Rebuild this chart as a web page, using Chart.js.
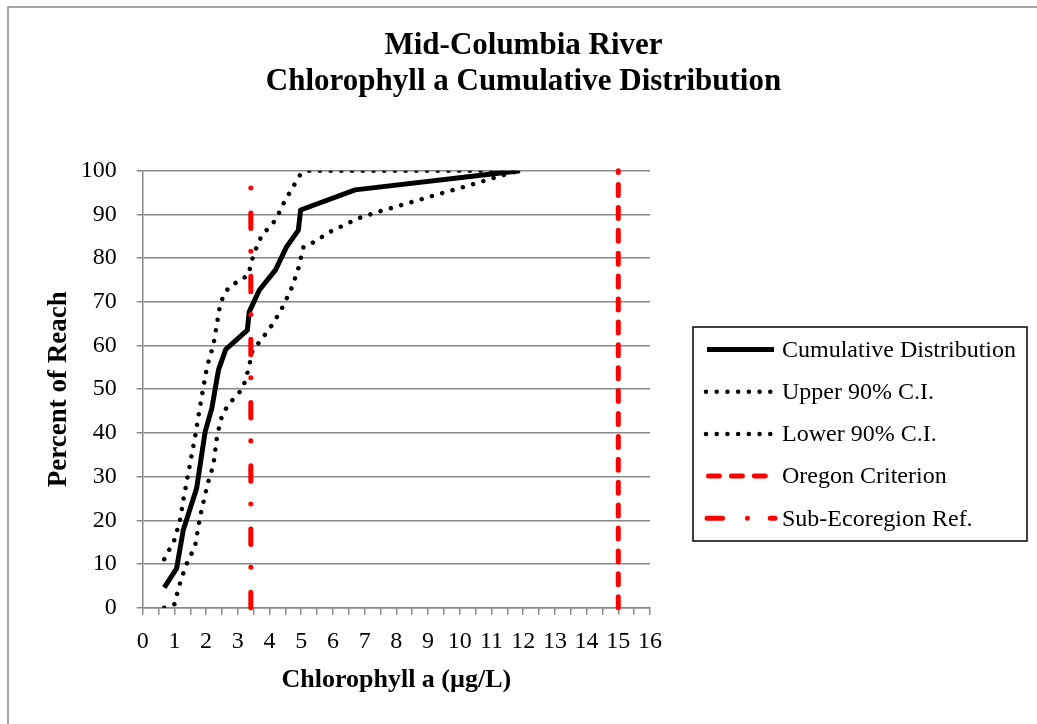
<!DOCTYPE html>
<html>
<head>
<meta charset="utf-8">
<title>Mid-Columbia River Chlorophyll a Cumulative Distribution</title>
<script src="https://cdn.jsdelivr.net/npm/chart.js@4.4.1/dist/chart.umd.min.js"></script>
<style>
    html, body { margin: 0; padding: 0; background: #fff; }
    canvas { display: block; }
</style>
</head>
<body>
<canvas id="chart" width="1037" height="724"></canvas>
<script>
// Values (chlorophyll a in ug/L vs percent of reach)
const cumX = [0.68, 1.07, 1.28, 1.70, 1.97, 2.18, 2.39, 2.62, 3.30, 3.36, 3.68, 4.19, 4.54, 4.91, 4.98, 6.70, 11.9];
const cumY = [4.6, 9.0, 17.8, 27.3, 40.3, 45.6, 54.4, 59.1, 63.5, 67.7, 72.7, 77.3, 82.6, 86.4, 91.0, 95.6, 100];

const upperX = [0.68, 1.0, 1.18, 1.28, 1.65, 1.86, 2.04, 2.23, 2.44, 2.57, 2.75, 3.33, 3.49, 3.75, 4.19, 4.47, 4.96, 5.22, 11.9];
const upperY = [11.1, 15.5, 20.1, 24.6, 39.0, 48.3, 55.5, 60.1, 69.3, 71.8, 73.5, 76.1, 80.7, 85.1, 88.7, 92.9, 99.0, 100, 100];

const lowerX = [0.68, 1.0, 1.15, 1.37, 1.65, 1.81, 2.04, 2.23, 2.35, 2.52, 2.91, 3.15, 3.33, 3.47, 3.70, 4.12, 4.42, 4.72, 4.91, 5.07, 5.36, 5.91, 6.80, 7.43, 8.43, 9.32, 10.33, 11.27, 11.9];
const lowerY = [0, 0.8, 5.0, 9.8, 14.0, 20.8, 28.1, 32.7, 39.5, 44.5, 48.3, 50.0, 54.4, 59.0, 60.9, 65.1, 68.9, 73.5, 77.7, 82.5, 83.5, 86.0, 89.1, 90.6, 92.7, 94.6, 96.7, 98.8, 100];

const oregonX = [15, 15];
const oregonY = [0, 100];

const subEcoX = [3.41, 3.41];
const subEcoY = [0, 100];

const seriesLabels = ['Cumulative Distribution', 'Upper 90% C.I.', 'Lower 90% C.I.', 'Oregon Criterion', 'Sub-Ecoregion Ref.'];
const titleLines = ['Mid-Columbia River', 'Chlorophyll a Cumulative Distribution'];
const xTitle = 'Chlorophyll a (\u00b5g/L)';
const yTitle = 'Percent of Reach';

const SERIF = "'Liberation Serif', 'Times New Roman', serif";
const GRAY = '#888888';

function toPoints(xs, ys) {
    return xs.map((x, i) => ({ x: x, y: ys[i] }));
}

Chart.defaults.font.family = SERIF;
Chart.defaults.color = '#000';

/**
 * Page frame: white background plus the thin gray border at top/left
 */
const framePlugin = {
    id: 'frame',
    beforeDraw(chart) {
        const ctx = chart.ctx;
        ctx.save();
        ctx.fillStyle = '#fff';
        ctx.fillRect(0, 0, chart.width, chart.height);
        ctx.strokeStyle = GRAY;
        ctx.lineWidth = 1.5;
        ctx.beginPath();
        ctx.moveTo(8, chart.height + 10);
        ctx.lineTo(8, 7);
        ctx.lineTo(chart.width + 10, 7);
        ctx.stroke();
        ctx.restore();
    }
};

/**
 * Boxed legend on the right, built from the dataset styles
 */
const boxLegendPlugin = {
    id: 'boxLegend',
    afterDraw(chart) {
        const ctx = chart.ctx;
        const box = { x: 693, y: 327, w: 334, h: 214 };
        ctx.save();
        ctx.strokeStyle = '#000';
        ctx.lineWidth = 1.5;
        ctx.strokeRect(box.x, box.y, box.w, box.h);

        // sample start/end per row so the dash patterns line up like the original
        const sampleSpan = [[707, 774], [706, 770.5], [706, 770.5], [708.5, 765.5], [707, 775]];
        chart.data.datasets.forEach((ds, i) => {
            const y = 349.5 + i * 42.2;
            ctx.beginPath();
            ctx.strokeStyle = ds.borderColor;
            ctx.lineWidth = ds.borderWidth;
            ctx.lineCap = ds.borderCapStyle || 'butt';
            ctx.setLineDash(ds.borderDash || []);
            ctx.moveTo(sampleSpan[i][0], y);
            ctx.lineTo(sampleSpan[i][1], y);
            ctx.stroke();

            ctx.setLineDash([]);
            ctx.fillStyle = '#000';
            ctx.font = '24px ' + SERIF;
            ctx.textAlign = 'left';
            ctx.textBaseline = 'middle';
            ctx.fillText(ds.label, 782, y + 1);
        });
        ctx.restore();
    }
};

const ctx = document.getElementById('chart').getContext('2d');

new Chart(ctx, {
    type: 'scatter',
    data: {
        datasets: [
            {
                label: seriesLabels[0],
                data: toPoints(cumX, cumY),
                showLine: true,
                borderColor: '#000',
                borderWidth: 5,
                borderCapStyle: 'butt',
                borderJoinStyle: 'round',
                pointRadius: 0,
                tension: 0,
                order: 3
            },
            {
                label: seriesLabels[1],
                data: toPoints(upperX, upperY),
                showLine: true,
                borderColor: '#000',
                borderWidth: 4.5,
                borderDash: [0.01, 10.7],
                borderCapStyle: 'round',
                pointRadius: 0,
                tension: 0,
                order: 4
            },
            {
                label: seriesLabels[2],
                data: toPoints(lowerX, lowerY),
                showLine: true,
                borderColor: '#000',
                borderWidth: 4.5,
                borderDash: [0.01, 10.7],
                borderCapStyle: 'round',
                pointRadius: 0,
                tension: 0,
                order: 5
            },
            {
                label: seriesLabels[3],
                data: toPoints(oregonX, oregonY),
                showLine: true,
                borderColor: '#ff0000',
                borderWidth: 5,
                borderDash: [11, 11.9],
                borderCapStyle: 'round',
                pointRadius: 0,
                clip: false,
                order: 1
            },
            {
                label: seriesLabels[4],
                data: toPoints(subEcoX, subEcoY),
                showLine: true,
                borderColor: '#ff0000',
                borderWidth: 5,
                borderDash: [15.5, 24.9, 0.01, 22.8],
                borderCapStyle: 'round',
                pointRadius: 0,
                clip: false,
                order: 2
            }
        ]
    },
    options: {
        responsive: false,
        animation: false,
        events: [],
        layout: {
            padding: { left: 10, top: 0, right: 0, bottom: 0 }
        },
        plugins: {
            legend: { display: false },
            tooltip: { enabled: false },
            title: {
                display: true,
                text: titleLines,
                color: '#000',
                font: { size: 31, weight: 'bold', lineHeight: 1.18 },
                padding: { top: 27.5, bottom: 70.0 }
            }
        },
        scales: {
            x: {
                type: 'linear',
                position: 'bottom',
                min: 0,
                max: 16,
                afterFit(scale) { scale.height = 116.3; },
                ticks: {
                    stepSize: 0.5,
                    autoSkip: false,
                    maxRotation: 0,
                    padding: 13,
                    font: { size: 24 },
                    callback: function(value) {
                        return Number.isInteger(value) ? value : '';
                    }
                },
                grid: {
                    drawOnChartArea: false,
                    drawTicks: true,
                    tickLength: 7,
                    color: GRAY,
                    lineWidth: 1.5
                },
                border: { color: GRAY, width: 1.5 },
                title: {
                    display: true,
                    text: xTitle,
                    font: { size: 26, weight: 'bold', lineHeight: 1.2 },
                    padding: { top: 0, bottom: 28.5 }
                }
            },
            y: {
                type: 'linear',
                position: 'left',
                min: 0,
                max: 100,
                afterFit(scale) { scale.width = 132.7; },
                ticks: {
                    stepSize: 10,
                    padding: 20,
                    font: { size: 24 }
                },
                grid: {
                    color: GRAY,
                    lineWidth: 1.5,
                    tickLength: 6
                },
                border: { color: GRAY, width: 1.5 },
                title: {
                    display: true,
                    text: yTitle,
                    font: { size: 27, weight: 'bold', lineHeight: 1.2 },
                    padding: { top: 32.5, bottom: 0 }
                }
            },
            // empty right-hand axis that only reserves room for the legend box
            legendSpace: {
                type: 'linear',
                position: 'right',
                display: true,
                afterFit(scale) { scale.width = 387; },
                ticks: { display: false },
                grid: { display: false },
                border: { display: false }
            }
        }
    },
    plugins: [framePlugin, boxLegendPlugin]
});
</script>
</body>
</html>
